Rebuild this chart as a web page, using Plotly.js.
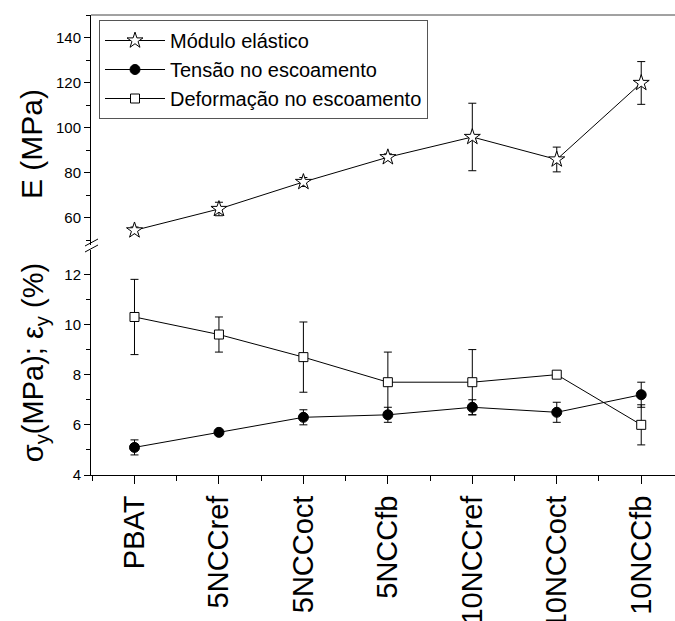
<!DOCTYPE html>
<html>
<head>
<meta charset="utf-8">
<script src="https://cdn.plot.ly/plotly-3.0.1.min.js"></script>
<style>html,body{margin:0;padding:0;background:#fff;overflow:hidden}</style>
</head>
<body>
<div id="chart" style="width:675px;height:621px"></div>
<script>
var categories = ['PBAT', '5NCCref', '5NCCoct', '5NCCfb', '10NCCref', '10NCCoct', '10NCCfb'];
var modulus = [54.5, 64, 76, 87, 96, 86, 120];
var modulusErr = [1.5, 3, 2, 1.5, 15, 5.5, 9.5];
var stress = [5.1, 5.7, 6.3, 6.4, 6.7, 6.5, 7.2];
var stressErr = [0.3, 0.1, 0.3, 0.3, 0.3, 0.4, 0.5];
var strain = [10.3, 9.6, 8.7, 7.7, 7.7, 8.0, 6.0];
var strainErr = [1.5, 0.7, 1.4, 1.2, 1.3, 0.1, 0.8];
var seriesNames = ['Módulo elástico', 'Tensão no escoamento', 'Deformação no escoamento'];

var xIdx = categories.map(function (c, i) { return i; });
var FONT = 'Liberation Sans, Arial, Helvetica, sans-serif';

function errBar(arr) {
  return {type: 'data', array: arr, visible: true, color: '#000', thickness: 1, width: 4};
}

var traces = [
  {
    x: xIdx, y: modulus, yaxis: 'y2', name: seriesNames[0], type: 'scatter', mode: 'lines+markers',
    line: {color: '#000', width: 1},
    marker: {symbol: 'star', size: 12, color: '#fff', line: {color: '#000', width: 1}},
    error_y: errBar(modulusErr)
  },
  {
    x: xIdx, y: stress, yaxis: 'y', name: seriesNames[1], type: 'scatter', mode: 'lines+markers',
    line: {color: '#000', width: 1},
    marker: {symbol: 'circle', size: 10, color: '#000', line: {color: '#000', width: 1}},
    error_y: errBar(stressErr)
  },
  {
    x: xIdx, y: strain, yaxis: 'y', name: seriesNames[2], type: 'scatter', mode: 'lines+markers',
    line: {color: '#000', width: 1},
    marker: {symbol: 'square', size: 9, color: '#fff', line: {color: '#000', width: 1}},
    error_y: errBar(strainErr)
  }
];

// pixel helpers for the axis-break marks (plot area: x 91..675, y 15..475)
function px(x) { return (x - 91) / 584; }
function py(y) { return (475 - y) / 460; }

var layout = {
  width: 675, height: 621,
  margin: {l: 91, r: 0, t: 15, b: 146},
  paper_bgcolor: '#fff', plot_bgcolor: '#fff',
  font: {family: FONT, color: '#000', size: 15},
  showlegend: true,
  legend: {
    x: px(99), y: py(20), xanchor: 'left', yanchor: 'top',
    bgcolor: '#fff', bordercolor: '#555', borderwidth: 1,
    font: {family: FONT, size: 20, color: '#000'},
    itemwidth: 60, tracegroupgap: 0
  },
  xaxis: {
    type: 'linear', range: [-0.515, 6.4],
    tickmode: 'array', tickvals: xIdx, ticktext: categories, tickangle: -90,
    tickfont: {family: FONT, size: 29, color: '#000'},
    ticks: 'outside', ticklen: 8, tickwidth: 1, tickcolor: '#000',
    minor: {dtick: 0.5, tick0: 0, ticks: 'outside', ticklen: 5, tickwidth: 1, tickcolor: '#000', showgrid: false},
    showline: true, linecolor: '#000', linewidth: 1,
    showgrid: false, zeroline: false, anchor: 'y', fixedrange: true
  },
  yaxis: {
    domain: [0, py(250)], range: [4, 12.97],
    tickmode: 'linear', tick0: 4, dtick: 2,
    ticks: 'outside', ticklen: 6, tickwidth: 1, tickcolor: '#000',
    minor: {dtick: 1, tick0: 4, ticks: 'outside', ticklen: 4, tickwidth: 1, tickcolor: '#000', showgrid: false},
    tickfont: {family: FONT, size: 15, color: '#000'},
    showline: true, linecolor: '#000', linewidth: 1,
    showgrid: false, zeroline: false, anchor: 'x',
    title: {text: 'σ<sub>y</sub>(MPa); ε<sub>y</sub> (%)', font: {family: FONT, size: 29, color: '#000'}, standoff: 12}
  },
  yaxis2: {
    domain: [py(245), 1], range: [48, 150.2],
    tickmode: 'linear', tick0: 60, dtick: 20,
    ticks: 'outside', ticklen: 6, tickwidth: 1, tickcolor: '#000',
    minor: {dtick: 10, tick0: 60, ticks: 'outside', ticklen: 4, tickwidth: 1, tickcolor: '#000', showgrid: false},
    tickfont: {family: FONT, size: 15, color: '#000'},
    showline: true, linecolor: '#000', linewidth: 1,
    showgrid: false, zeroline: false, anchor: 'x'
  },
  annotations: [
    {text: 'E (MPa)', xref: 'paper', yref: 'paper', x: px(31), y: py(144), xanchor: 'center', yanchor: 'middle',
     textangle: -90, showarrow: false, font: {family: FONT, size: 30, color: '#000'}}
  ],
  shapes: [
    {type: 'line', xref: 'paper', yref: 'paper', x0: 0, x1: 1, y0: 1, y1: 1, line: {color: '#444', width: 1}},
    {type: 'line', xref: 'paper', yref: 'paper', x0: px(85), x1: px(98), y0: py(246), y1: py(239), line: {color: '#000', width: 1}},
    {type: 'line', xref: 'paper', yref: 'paper', x0: px(85), x1: px(98), y0: py(252), y1: py(245), line: {color: '#000', width: 1}}
  ]
};

Plotly.newPlot('chart', traces, layout, {staticPlot: true, displayModeBar: false});
</script>
</body>
</html>
